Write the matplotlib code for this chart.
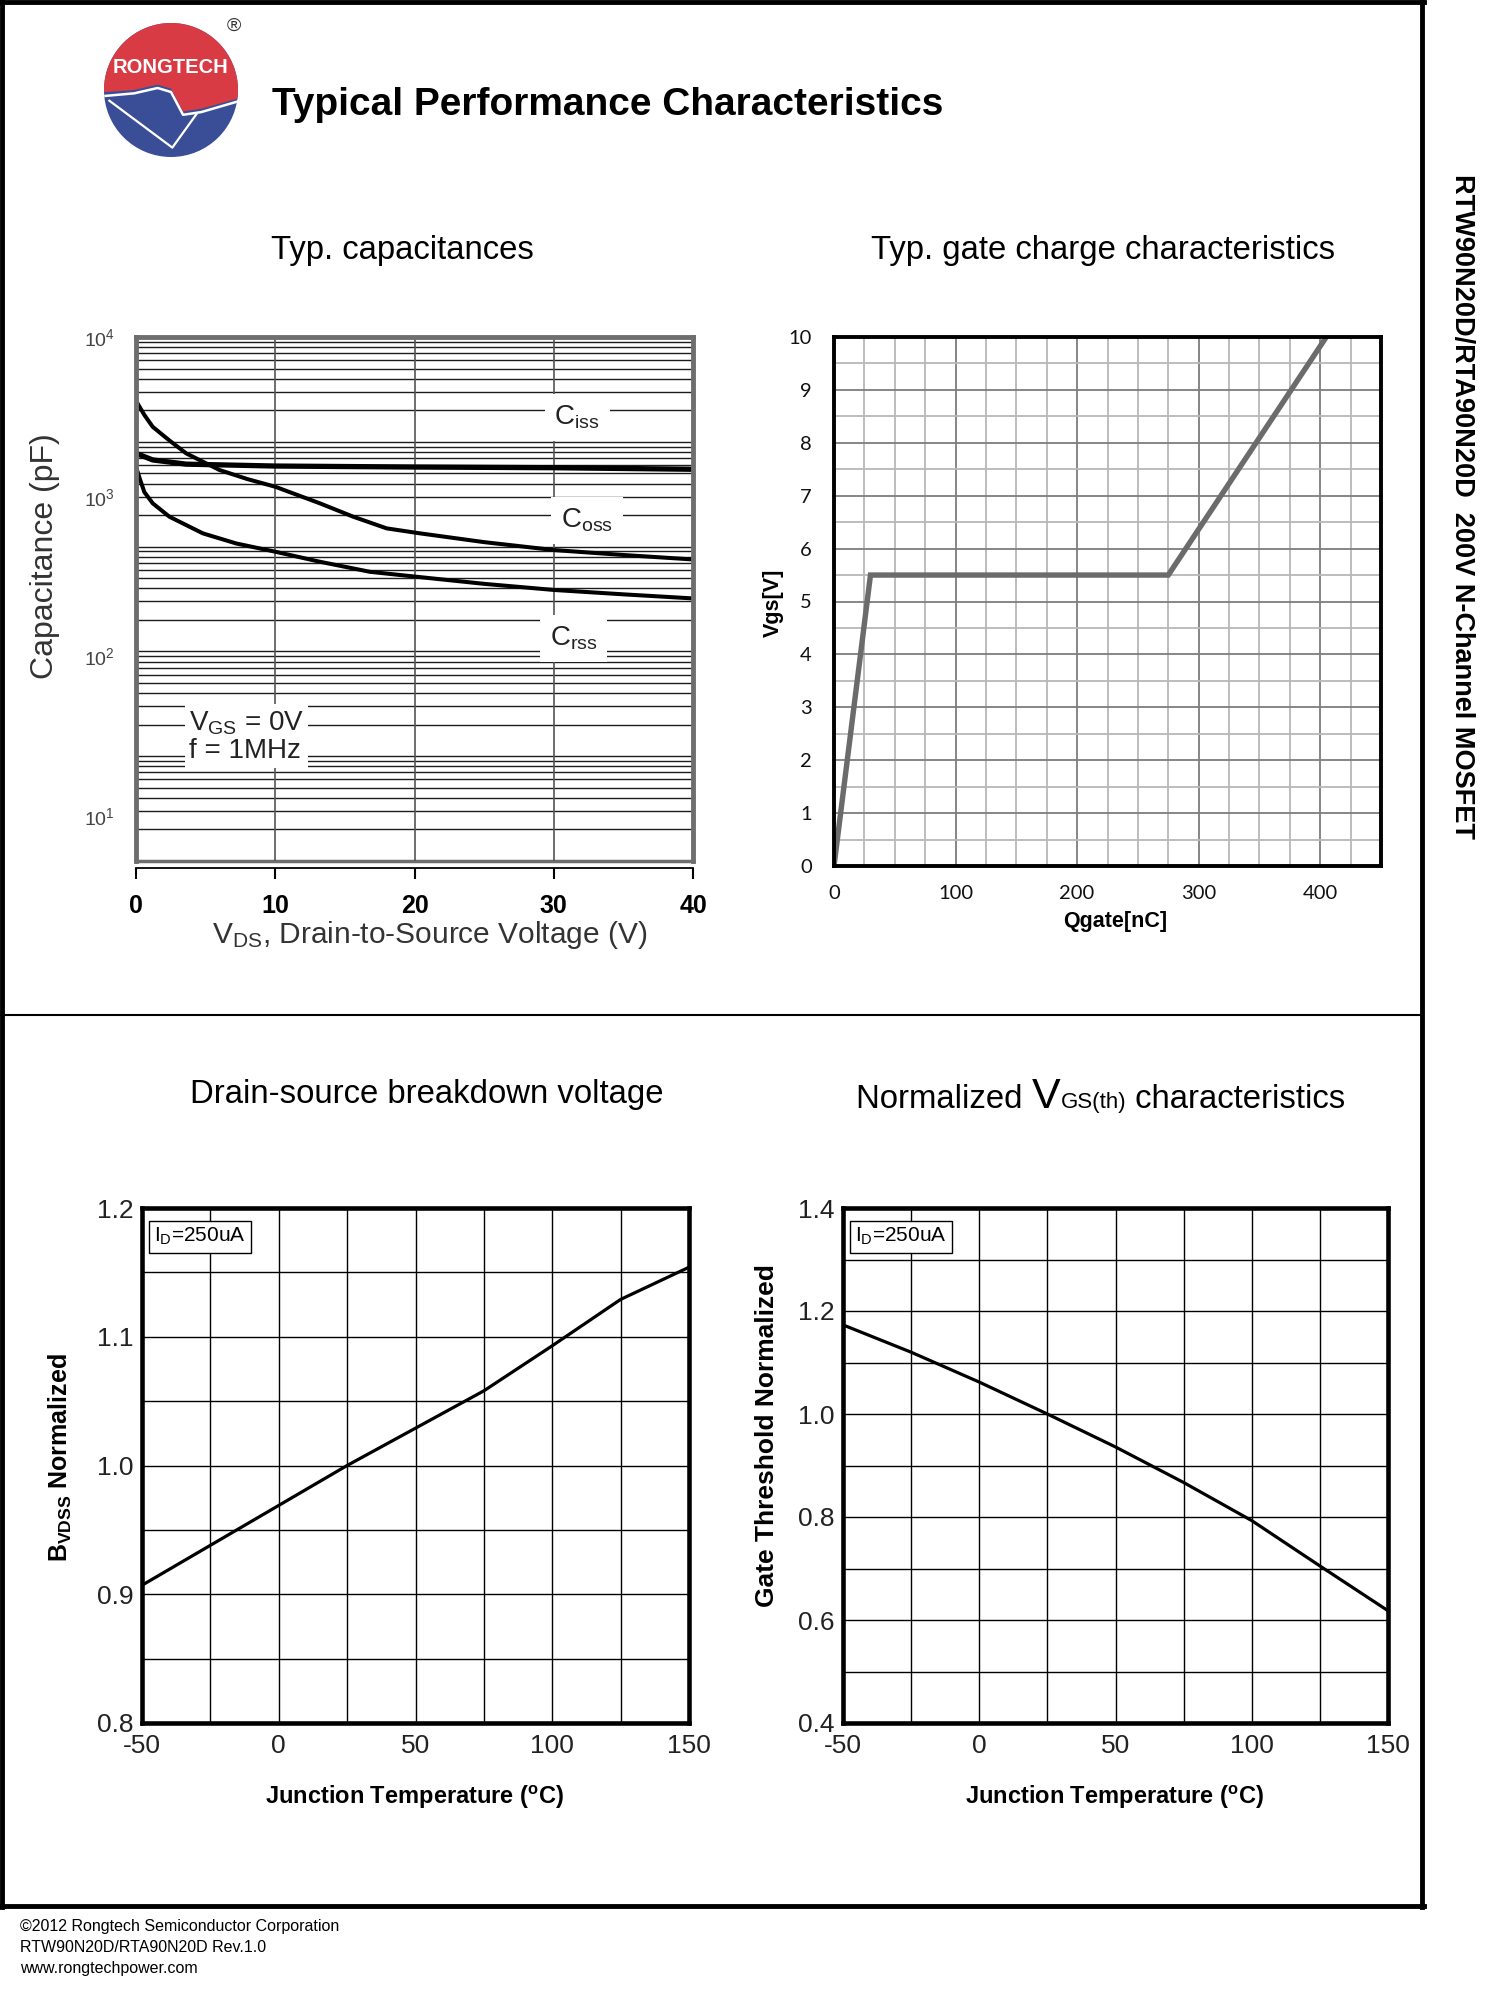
import matplotlib
matplotlib.use("Agg")
import matplotlib.pyplot as plt
import matplotlib.patches as mpatches
from matplotlib import font_manager
from matplotlib.ticker import MultipleLocator, LogLocator, NullLocator, NullFormatter, LogFormatterMathtext
from matplotlib.offsetbox import TextArea, HPacker, AnnotationBbox

# ---------------- data ----------------
ciss_v = [0, 1.2, 3.6, 10, 20, 30, 40]
ciss_pf = [1870, 1700, 1600, 1557, 1535, 1520, 1486]

coss_v = [0, 0.6, 1.2, 2.4, 3.6, 6.0, 8.0, 10, 13.2, 15.6, 18, 20.4, 25, 30, 35, 40]
coss_pf = [3990, 3250, 2740, 2250, 1870, 1470, 1290, 1155, 910, 750, 634, 590, 520, 464, 432, 405]

crss_v = [0, 0.3, 0.6, 1.2, 2.4, 4.8, 7.2, 10, 13.2, 16.8, 20.4, 25, 30, 35, 40]
crss_pf = [1540, 1275, 1070, 910, 750, 590, 510, 453, 392, 339, 314, 285, 261, 245, 231]

qgate_nc = [0, 30, 275, 405]
vgs_v = [0, 5.5, 5.5, 10]

temp_c = [-50, -25, 0, 25, 50, 75, 100, 125, 150]
bvdss_norm = [0.907, 0.938, 0.969, 1.0, 1.029, 1.058, 1.093, 1.129, 1.154]
vth_norm = [1.173, 1.120, 1.062, 1.0, 0.936, 0.867, 0.793, 0.705, 0.618]

cap_xticks = [0, 10, 20, 30, 40]
cap_yticks = [10, 100, 1000, 10000]
gate_xticks = [0, 100, 200, 300, 400]
gate_yticks = list(range(0, 11))
temp_ticks = [-50, 0, 50, 100, 150]
bv_ticks = [0.8, 0.9, 1.0, 1.1, 1.2]
vth_ticks = [0.4, 0.6, 0.8, 1.0, 1.2, 1.4]


def has_font(name):
    try:
        font_manager.findfont(font_manager.FontProperties(family=name), fallback_to_default=False)
        return True
    except ValueError:
        return False


SANS = ["Liberation Sans", "DejaVu Sans"]
NARROW = ["Liberation Sans Narrow", "Liberation Sans", "DejaVu Sans"] if has_font("Liberation Sans Narrow") else SANS
CALIB = ["Lato", "Liberation Sans", "DejaVu Sans"]

plt.rcParams["font.family"] = SANS
plt.rcParams["mathtext.fontset"] = "custom"
plt.rcParams["mathtext.rm"] = "Liberation Sans"
plt.rcParams["mathtext.default"] = "regular"
plt.rcParams["axes.unicode_minus"] = False

W, H = 1500, 2000
fig = plt.figure(figsize=(15, 20), dpi=100)
fig.patch.set_facecolor("white")


def px_axes(left, top, right, bottom, **kw):
    return fig.add_axes([left / W, 1 - bottom / H, (right - left) / W, (bottom - top) / H], **kw)


def ftext(x, y, s, **kw):
    kw.setdefault("ha", "center")
    kw.setdefault("va", "center")
    return fig.text(x / W, 1 - y / H, s, **kw)


def fline(xs, ys, lw):
    fig.add_artist(plt.Line2D([x / W for x in xs], [1 - y / H for y in ys],
                              transform=fig.transFigure, color="black", lw=lw))


# ---------------- page frame ----------------
fline([2, 2], [0, 1907], 3.5)
fline([0, 1424], [2, 2], 3.5)
fline([1422, 1422], [0, 1907], 3.5)
fline([0, 1424], [1906, 1906], 3.5)
fline([0, 1422], [1015, 1015], 1.5)

# ---------------- logo ----------------
lax = px_axes(104, 23, 238, 157)
lax.set_xlim(-1, 1)
lax.set_ylim(-1, 1)
lax.axis("off")
disc = mpatches.Circle((0, 0), 1, fc="#3a4e98", ec="none")
lax.add_patch(disc)
red = mpatches.Polygon([(-1.1, 1.1), (-1.1, -0.04), (-0.55, 0.0), (-0.2, 0.08), (0.0, 0.02),
                        (0.18, -0.32), (0.45, -0.28), (1.1, -0.1), (1.1, 1.1)],
                       closed=True, fc="#d83b44", ec="none")
lax.add_patch(red)
red.set_clip_path(disc)
edge, = lax.plot([-1, -0.55, -0.2, 0.0, 0.18, 0.45, 1.0], [-0.09, -0.05, 0.03, -0.03, -0.37, -0.33, -0.17],
                 color="white", lw=1.8)
edge.set_clip_path(disc)
vee, = lax.plot([-0.92, 0.02, 0.38], [-0.16, -0.86, -0.36], color="white", lw=1.6)
vee.set_clip_path(disc)
lax.text(0, 0.33, "RONGTECH", color="white", fontsize=14.5, fontweight="bold", family=NARROW,
         ha="center", va="center")
ftext(234, 26, "®", fontsize=14, color="#333333")

ftext(272, 105, "Typical Performance Characteristics", ha="left", fontsize=28, fontweight="bold")
ftext(1462, 506, "RTW90N20D/RTA90N20D  200V N-Channel MOSFET", rotation=-90,
      fontsize=19.5, fontweight="bold")

# ---------------- Typ. capacitances ----------------
ftext(402, 251, "Typ. capacitances", fontsize=23.7)
ax = px_axes(136, 337, 693, 861)
gax = ax.twinx()
gax.set_yscale("log")
gax.set_ylim(1, 1e5)
gax.yaxis.set_major_locator(LogLocator(base=10, numticks=20))
gax.yaxis.set_minor_locator(LogLocator(base=10, subs=range(2, 10), numticks=60))
gax.yaxis.set_minor_formatter(NullFormatter())
gax.grid(True, which="both", axis="y", color="#1c1c1c", lw=1.0)
gax.tick_params(which="both", right=False, labelright=False)
for s in gax.spines.values():
    s.set_visible(False)
gax.spines["bottom"].set_visible(True)
gax.spines["bottom"].set_color("#6e6e6e")
gax.spines["bottom"].set_linewidth(2.5)
ax.set_zorder(gax.get_zorder() + 1)
ax.patch.set_visible(False)

ax.set_yscale("log")
ax.set_xlim(0, 40)
ax.set_ylim(10 ** 0.72, 1e4)
ax.set_yticks(cap_yticks)
ax.yaxis.set_major_formatter(LogFormatterMathtext())
ax.yaxis.set_minor_locator(NullLocator())
ax.tick_params(axis="y", length=0, pad=15, labelsize=14, labelcolor="#444444", labelfontfamily=NARROW[0])
ax.set_xticks(cap_xticks)
ax.tick_params(axis="x", direction="out", length=8, width=1.5, pad=11, labelsize=18)
ax.grid(True, axis="x", color="#555555", lw=1.2)
ax.grid(False, axis="y")
for side in ["left", "top", "right"]:
    ax.spines[side].set_color("#6e6e6e")
    ax.spines[side].set_linewidth(3.5)
ax.spines["bottom"].set_position(("outward", 5))
ax.spines["bottom"].set_linewidth(1.3)

ax.plot(ciss_v, ciss_pf, color="black", lw=3.8, solid_capstyle="butt")
ax.plot(coss_v, coss_pf, color="black", lw=2.9)
ax.plot(crss_v, crss_pf, color="black", lw=2.9)

box = dict(boxstyle="square,pad=0.35", fc="white", ec="none")
ax.text(0.792, 0.847, r"$\mathregular{C_{iss}}$", transform=ax.transAxes, fontsize=20,
        color="#222222", ha="center", va="center", bbox=box)
ax.text(0.810, 0.650, r"$\mathregular{C_{oss}}$", transform=ax.transAxes, fontsize=20,
        color="#222222", ha="center", va="center", bbox=box)
ax.text(0.786, 0.425, r"$\mathregular{C_{rss}}$", transform=ax.transAxes, fontsize=20,
        color="#222222", ha="center", va="center", bbox=box)
ax.text(0.095, 0.238, "$\\mathregular{V_{GS}}$ = 0V\nf = 1MHz", transform=ax.transAxes, fontsize=20,
        color="#222222", ha="left", va="center", linespacing=1.05,
        bbox=dict(boxstyle="square,pad=0.15", fc="white", ec="none"))

ftext(45, 556, "Capacitance (pF)", rotation=90, fontsize=23, color="#333333")
ftext(430, 935, r"$\mathregular{V_{DS}}$, Drain-to-Source Voltage (V)", fontsize=21.5, color="#333333")

# ---------------- Typ. gate charge ----------------
ftext(1103, 251, "Typ. gate charge characteristics", fontsize=23.7)
gx = px_axes(834, 337, 1381, 866)
gx.set_xlim(0, 450)
gx.set_ylim(0, 10)
gx.xaxis.set_minor_locator(MultipleLocator(25))
gx.yaxis.set_minor_locator(MultipleLocator(0.5))
gx.set_xticks(gate_xticks)
gx.set_yticks(gate_yticks)
gx.grid(True, which="major", color="#7d7d7d", lw=1.3)
gx.grid(True, which="minor", color="#b8b8b8", lw=1.3)
gx.set_axisbelow(True)
gx.tick_params(which="both", length=0, labelsize=14.5, labelfontfamily=CALIB[0], labelcolor="#111111")
gx.tick_params(axis="y", pad=16)
gx.tick_params(axis="x", pad=14)
for s in gx.spines.values():
    s.set_linewidth(2.8)
gx.plot(qgate_nc, vgs_v, color="#6b6b6b", lw=3.9, solid_joinstyle="miter")
ftext(773, 603, "Vgs[V]", rotation=90, fontsize=15.5, fontweight="bold")
ftext(1115, 921, "Qgate[nC]", fontsize=15.5, fontweight="bold")


def temp_axes(axh, ylo, yhi, ystep, yticks, vals):
    axh.set_xlim(-50, 150)
    axh.set_ylim(ylo, yhi)
    axh.set_xticks(temp_ticks)
    axh.xaxis.set_minor_locator(MultipleLocator(25))
    axh.set_yticks(yticks)
    axh.set_yticklabels([f"{t:.1f}" for t in yticks])
    axh.yaxis.set_minor_locator(MultipleLocator(ystep / 2))
    axh.grid(True, which="both", color="black", lw=1.0)
    axh.set_axisbelow(True)
    axh.tick_params(which="both", length=0, labelsize=19, labelfontfamily=NARROW[0], labelcolor="#222222")
    axh.tick_params(axis="y", pad=6)
    axh.tick_params(axis="x", pad=8)
    for s in axh.spines.values():
        s.set_linewidth(3.3)
    axh.plot(temp_c, vals, color="black", lw=2.3)
    axh.text(0.022, 0.965, r"$\mathregular{I_D}$=250uA", transform=axh.transAxes, fontsize=15,
             family=NARROW, ha="left", va="top",
             bbox=dict(boxstyle="square,pad=0.25", fc="white", ec="black", lw=1.0))


# ---------------- Drain-source breakdown voltage ----------------
ftext(427, 1094, "Drain-source breakdown voltage", fontsize=23.7)
bx = px_axes(142, 1208, 689, 1723)
temp_axes(bx, 0.8, 1.2, 0.1, bv_ticks, bvdss_norm)
ftext(60, 1458, r"$\mathregular{B_{VDSS}}$ Normalized", rotation=90, fontsize=18, fontweight="bold")
ftext(415, 1797, r"Junction Temperature ($\mathregular{^{o}}$C)", fontsize=17, fontweight="bold")

# ---------------- Normalized VGS(th) ----------------
parts = [TextArea("Normalized ", textprops=dict(fontsize=23.7)),
         TextArea("V", textprops=dict(fontsize=31)),
         TextArea("GS(th)", textprops=dict(fontsize=16)),
         TextArea(" characteristics", textprops=dict(fontsize=23.7))]
title_box = HPacker(children=parts, align="baseline", pad=0, sep=0)
fig.add_artist(AnnotationBbox(title_box, (1101 / W, 1 - 1097 / H), xycoords="figure fraction",
                              frameon=False, box_alignment=(0.5, 0.5)))
vx = px_axes(843, 1208, 1388, 1723)
temp_axes(vx, 0.4, 1.4, 0.2, vth_ticks, vth_norm)
ftext(767, 1436, "Gate Threshold Normalized", rotation=90, fontsize=19, fontweight="bold")
ftext(1115, 1797, r"Junction Temperature ($\mathregular{^{o}}$C)", fontsize=17, fontweight="bold")

# ---------------- footer ----------------
ftext(20, 1927, "©2012 Rongtech Semiconductor Corporation", ha="left", fontsize=11.5)
ftext(20, 1947, "RTW90N20D/RTA90N20D Rev.1.0", ha="left", fontsize=11.5)
ftext(20, 1968, "www.rongtechpower.com", ha="left", fontsize=11.5)

# cap x tick labels are bold in the original
for lbl in ax.get_xticklabels():
    lbl.set_fontweight("bold")

fig.savefig("out.png", dpi=100, facecolor="white")
